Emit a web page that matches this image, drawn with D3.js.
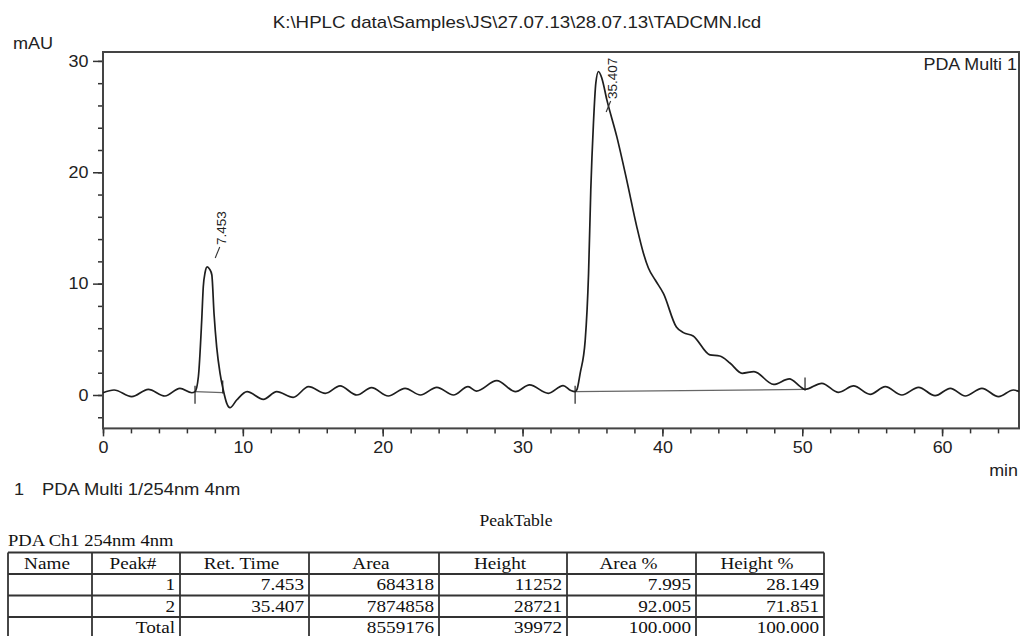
<!DOCTYPE html>
<html>
<head>
<meta charset="utf-8">
<script src="https://cdn.jsdelivr.net/npm/d3@7"></script>
<style>
html, body { margin: 0; padding: 0; background: #fff; }
svg { display: block; }
.sans { font-family: "Liberation Sans", Arial, sans-serif; fill: #222; }
.serif { font-family: "Liberation Serif", "Times New Roman", serif; fill: #111; }
</style>
</head>
<body>
<svg id="chart" width="1021" height="636"></svg>
<script>
// chromatogram (min, mAU)
const chromTime = [0.0, 0.79, 2.05, 3.24, 4.43, 5.5, 6.35, 6.58, 6.82, 7.06, 7.17, 7.3, 7.45, 7.62, 7.78, 7.94, 8.13, 8.37, 8.6, 8.85, 9.08, 9.56,
	10.3, 11.47, 12.42, 13.6, 14.7, 15.9, 16.95, 18.15, 19.2, 20.4, 21.6, 22.7, 23.87, 25.06, 26.1, 26.7, 28.16, 29.5, 30.5, 31.85, 32.9, 33.45,
	33.76, 33.88, 34.12, 34.48, 34.72, 34.88, 35.07, 35.24, 35.43, 35.67, 36.03, 36.74, 37.45, 38.17, 38.65, 39.0, 39.5, 40.08, 41.0, 41.5,
	42.2, 43.4, 44.1, 44.85, 45.7, 46.55, 47.95, 49.08, 49.86, 50.2, 51.4, 52.6, 53.67, 54.86, 55.94, 57.13, 58.32, 59.5, 60.59, 61.66,
	62.85, 64.04, 65.1, 65.5];
const chromSignal = [0.2, 0.45, -0.15, 0.51, -0.09, 0.6, 0.2, 0.3, 1.64, 6.74, 9.7, 11.0, 11.5, 11.3, 10.8, 7.3, 4.3, 1.95, 0.45, -0.75, -1.14, -0.45,
	0.3, -0.39, 0.3, -0.21, 0.75, 0.15, 0.81, 0.0, 0.66, -0.09, 0.6, 0.0, 0.69, 0.0, 0.75, 0.35, 1.29, 0.3, 0.9, 0.15, 0.85, 0.4,
	0.3, 0.45, 1.95, 4.9, 10.9, 18.4, 24.4, 28.0, 29.05, 28.45, 26.5, 23.2, 19.3, 15.1, 12.7, 11.4, 10.3, 9.1, 6.1, 5.6,
	5.3, 3.6, 3.5, 2.85, 1.95, 2.1, 0.95, 1.45, 0.75, 0.5, 1.05, 0.24, 0.81, 0.06, 0.75, 0.0, 0.69, -0.06, 0.6, -0.09,
	0.6, -0.15, 0.45, 0.3];

// integration marks
const peakStart = [6.58, 33.76];
const peakEnd = [8.56, 50.2];
const peakStartLevel = [0.3, 0.3];
const peakEndLevel = [0.22, 0.5];

// peak table
const tableHeader = ["Name", "Peak#", "Ret. Time", "Area", "Height", "Area %", "Height %"];
const peakNo = [1, 2];
const retTime = [7.453, 35.407];
const peakArea = [684318, 7874858];
const peakHeight = [11252, 28721];
const areaPct = [7.995, 92.005];
const heightPct = [28.149, 71.851];
const totalArea = 8559176;
const totalHeight = 39972;

const xTicksMajor = [0, 10, 20, 30, 40, 50, 60];
const yTicksMajor = [0, 10, 20, 30];

const titleText = "K:\\HPLC data\\Samples\\JS\\27.07.13\\28.07.13\\TADCMN.lcd";

// layout
const svg = d3.select("#chart");
const plotLeft = 103, plotRight = 1019, plotTop = 52, plotBottom = 428.4;

const x = d3.scaleLinear().domain([0, 65.5]).range([plotLeft, plotRight]);
const y = d3.scaleLinear().domain([-3, 30.8]).range([plotBottom, plotTop]);

function label(g, cls, px, py, s, size, k, anchor) {
	return g.append("text")
		.attr("class", cls)
		.attr("transform", "translate(" + px + "," + py + ") scale(" + k + ",1)")
		.attr("text-anchor", anchor || "start")
		.style("font-size", size + "px")
		.text(s);
}

// axes: minor ticks every 2, major every 10
const xMinor = d3.axisBottom(x).tickValues(d3.range(0, 65, 2)).tickSize(5).tickFormat("");
const xMajor = d3.axisBottom(x).tickValues(xTicksMajor).tickSize(8).tickPadding(5).tickFormat(d3.format("d"));
const yMinor = d3.axisLeft(y).tickValues(d3.range(-2, 31, 2)).tickSize(5).tickFormat("");
const yMajor = d3.axisLeft(y).tickValues(yTicksMajor).tickSize(10).tickPadding(3).tickFormat(d3.format("d"));

[xMinor, xMajor].forEach(a => {
	svg.append("g").attr("transform", "translate(0," + plotBottom + ")").call(a);
});
[yMinor, yMajor].forEach(a => {
	svg.append("g").attr("transform", "translate(" + plotLeft + ",0)").call(a);
});
svg.selectAll(".domain").remove();
svg.selectAll(".tick line").attr("stroke", "#333").attr("stroke-width", 1.5);
svg.selectAll(".tick text")
	.attr("class", "sans")
	.attr("fill", "#222")
	.style("font-size", "16px")
	.attr("transform", "scale(1.12,1)");

// frame
svg.append("rect")
	.attr("x", plotLeft)
	.attr("y", plotTop)
	.attr("width", plotRight - plotLeft)
	.attr("height", plotBottom - plotTop)
	.attr("fill", "none")
	.attr("stroke", "#444")
	.attr("stroke-width", 2);

// trace
const chrom = chromTime.map((t, i) => ({t: t, v: chromSignal[i]}));
const line = d3.line()
	.x(d => x(d.t))
	.y(d => y(d.v))
	.curve(d3.curveMonotoneX);

const plot = svg.append("g");

// integration baselines and start/end marks
peakStart.forEach((s, i) => {
	plot.append("line")
		.attr("x1", x(s)).attr("y1", y(peakStartLevel[i]))
		.attr("x2", x(peakEnd[i])).attr("y2", y(peakEndLevel[i]))
		.attr("stroke", "#666").attr("stroke-width", 1.2);
	plot.append("line")
		.attr("x1", x(s)).attr("x2", x(s))
		.attr("y1", y(peakStartLevel[i]) - 6).attr("y2", y(peakStartLevel[i]) + 12)
		.attr("stroke", "#333").attr("stroke-width", 1.3);
	plot.append("line")
		.attr("x1", x(peakEnd[i])).attr("x2", x(peakEnd[i]))
		.attr("y1", y(peakEndLevel[i]) - 12).attr("y2", y(peakEndLevel[i]) + 1)
		.attr("stroke", "#333").attr("stroke-width", 1.3);
});

plot.append("path")
	.datum(chrom)
	.attr("d", line)
	.attr("fill", "none")
	.attr("stroke", "#1e1e1e")
	.attr("stroke-width", 1.7);

// peak labels, rotated, kept inside the frame
retTime.forEach((rt, i) => {
	const apex = d3.max(chrom.filter(d => d.t >= peakStart[i] && d.t <= peakEnd[i]), d => d.v);
	const px = x(rt);
	const bottom = Math.max(y(apex) - 9, plotTop + 60);
	plot.append("line")
		.attr("x1", px + 8).attr("y1", bottom)
		.attr("x2", px + 12.5).attr("y2", bottom - 11)
		.attr("stroke", "#333").attr("stroke-width", 1.1);
	plot.append("text")
		.attr("class", "sans")
		.attr("transform", "translate(" + (px + 19) + "," + (bottom - 13) + ") rotate(-90)")
		.style("font-size", "13.5px")
		.text(d3.format(".3f")(rt));
});

// texts around the plot
label(svg, "sans", 517, 28, titleText, 16, 1.17, "middle");
label(svg, "sans", 13, 49, "mAU", 16, 1.13);
label(svg, "sans", 1017, 70, "PDA Multi 1", 16, 1.12, "end");
label(svg, "sans", 1018, 476, "min", 16, 1.12, "end");
label(svg, "sans", 14, 495, "1", 16, 1.13);
label(svg, "sans", 42, 495, "PDA Multi 1/254nm 4nm", 16, 1.15);
label(svg, "serif", 516, 526, "PeakTable", 16, 1.1, "middle");
label(svg, "serif", 8, 546, "PDA Ch1 254nm 4nm", 16, 1.16);

// peak table
const colEdges = [8, 92, 180, 309, 439, 567, 696, 824];
const rowTop = 552.5, rowH = 21.5;
const fmt3 = d3.format(".3f");
const rows = [tableHeader];
peakNo.forEach((n, i) => {
	rows.push(["", String(n), fmt3(retTime[i]), String(peakArea[i]), String(peakHeight[i]), fmt3(areaPct[i]), fmt3(heightPct[i])]);
});
rows.push(["", "Total", "", String(totalArea), String(totalHeight), fmt3(d3.sum(areaPct)), fmt3(d3.sum(heightPct))]);

const table = svg.append("g");
rows.forEach((r, ri) => {
	const top = rowTop + ri * rowH;
	r.forEach((s, ci) => {
		if (!s) return;
		if (ri === 0) {
			label(table, "serif", (colEdges[ci] + colEdges[ci + 1]) / 2 - 3, top + 16, s, 16, 1.2, "middle");
		} else {
			label(table, "serif", colEdges[ci + 1] - 5, top + 16, s, 16, 1.2, "end");
		}
	});
});
d3.range(rows.length + 1).forEach(ri => {
	table.append("line")
		.attr("x1", colEdges[0]).attr("x2", colEdges[colEdges.length - 1])
		.attr("y1", rowTop + ri * rowH).attr("y2", rowTop + ri * rowH)
		.attr("stroke", "#333").attr("stroke-width", 1.8);
});
colEdges.forEach(cx => {
	table.append("line")
		.attr("x1", cx).attr("x2", cx)
		.attr("y1", rowTop).attr("y2", rowTop + rows.length * rowH)
		.attr("stroke", "#333").attr("stroke-width", 1.8);
});
</script>
</body>
</html>
